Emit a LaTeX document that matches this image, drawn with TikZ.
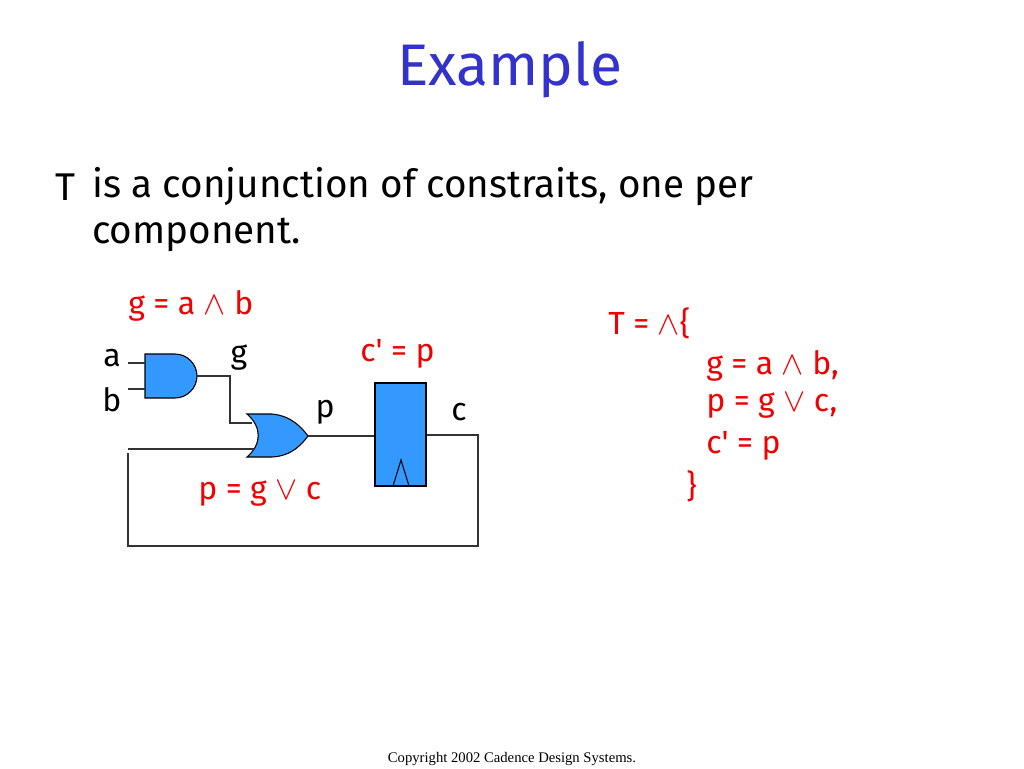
\documentclass[tikz,border=0pt]{standalone}
\usepackage{fontspec}
\setmainfont{Fira Sans}
\newfontfamily\foot{Liberation Serif}
\begin{document}
\begin{tikzpicture}[x=0.75pt,y=-0.75pt,
  wire/.style={draw=black!80,line width=0.9pt},
  gate/.style={fill={rgb,255:red,51;green,153;blue,255},draw=black,line width=0.8pt},
  lbl/.style={font=\fontsize{24}{28}\selectfont,inner sep=0pt},
  red/.style={lbl,text={rgb,255:red,240;green,0;blue,0}}]
\useasboundingbox (0,0) rectangle (1024,768);
\node[font=\fontsize{44}{50}\selectfont,text={rgb,255:red,51;green,51;blue,204}] (title) at (510,70) {Example};
\node[anchor=west,font=\fontsize{29}{34}\selectfont,inner sep=0pt] (t1) at (55,187) {T};
\node[anchor=west,font=\fontsize{29}{34}\selectfont,inner sep=0pt] (t2) at (92,187) {is a conjunction of constraits, one per};
\node[anchor=west,font=\fontsize{29}{34}\selectfont,inner sep=0pt] (t3) at (92,235) {component.};
% labels
\node[red,anchor=west] (lg) at (128,306) {g = a $\wedge$ b};
\node[lbl] (la) at (112,358) {a};
\node[lbl] (lb) at (112,400) {b};
\node[lbl] (lgg) at (239,358) {g};
\node[red,anchor=west] (lc) at (360,354) {c\textquotesingle{} = p};
\node[lbl] (lp) at (325,412) {p};
\node[lbl] (lcc) at (459,412) {c};
\node[red,anchor=west] (lpo) at (198,494) {p = g $\vee$ c};
% gates
\path[gate] (145,354) -- (175,354) .. controls (187,354) and (197,364) .. (197,376)
  .. controls (197,388) and (187,398) .. (175,398) -- (145,398) -- cycle;
\path[gate] (247,414) -- (272,414) .. controls (292,416) and (302,428) .. (308,436)
  .. controls (302,444) and (292,456) .. (272,457) -- (247,457)
  .. controls (262,444) and (262,427) .. (247,414) -- cycle;
\node[gate,draw,rectangle,minimum width=51*0.75pt,minimum height=103*0.75pt,inner sep=0pt] (ff) at (400.5,434.5) {};
\draw[black,line width=0.8pt] (393,486) -- (401,460) -- (409,486);
\coordinate (andout) at (197,376);
\coordinate (orin1) at (252,423);
\coordinate (orin2) at (254,449);
\coordinate (orout) at (308,436);
% wires
\draw[wire] (128,363) -- (145,363);
\draw[wire] (128,389) -- (145,389);
\draw[wire] (andout) -- (230,376) -- (230,423) -- (orin1);
\draw[wire] (orout) -- (ff.west |- orout);
\draw[wire] (ff.east |- 0,435) -- (478,435) -- (478,546) -- (128,546) -- (128,453);
\draw[wire] (128,449) -- (orin2);
% right
\node[red,anchor=west] (r0) at (608,323) {T = $\wedge$\{};
\node[red,anchor=west] (r1) at (706,366) {g = a $\wedge$ b,};
\node[red,anchor=west] (r2) at (706,406) {p = g $\vee$ c,};
\node[red,anchor=west] (r3) at (706,446) {c\textquotesingle{} = p};
\node[red,anchor=west] (r4) at (686,486) {\}};
\node[font=\foot\fontsize{11}{13}\selectfont] (copy) at (512,759) {Copyright 2002 Cadence Design Systems.};
\end{tikzpicture}
\end{document}
